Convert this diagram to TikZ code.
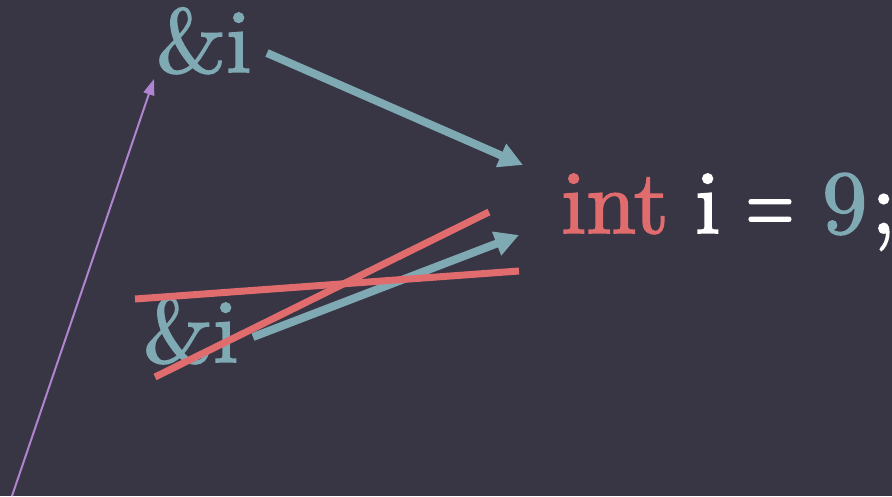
\documentclass[tikz,border=0pt]{standalone}
\usepackage{fontspec}
\newfontfamily\cmten{lmroman10-regular.otf}[FakeBold=1.8]
\usetikzlibrary{arrows.meta}
\definecolor{bg}{HTML}{383545}
\definecolor{teal}{HTML}{7FAAB3}
\definecolor{redc}{HTML}{E06C6E}
\definecolor{purp}{HTML}{B084D0}
\begin{document}
\begin{tikzpicture}[x=1pt,y=-1pt,
  big/.style={inner sep=0pt,anchor=base west,font=\cmten\fontsize{90}{90}\selectfont},
  tealarrow/.style={draw=teal,line width=8pt,-{Triangle[length=24pt,width=24pt]}},
  strike/.style={draw=redc,line width=7pt},
  thinarrow/.style={draw=purp,line width=2pt,-{Triangle[length=16pt,width=11pt]}}]
\fill[bg] (0,0) rectangle (892,496);
\useasboundingbox (0,0) rectangle (892,496);
\node[big,text=teal] (top) at (156,72) {\&i};
\node[big,text=teal] (low) at (143,362) {\&i};
\node[big,text=redc] (int) at (561,233) {int};
\node[big,text=white] (var) at (695,233) {i};
\node[big,text=white,anchor=base,xscale=0.7] (eq) at (770,233) {=};
\node[big,text=teal] (nine) at (822,233) {9};
\node[big,text=white] (semi) at (871,233) {;};
\coordinate (t1) at (267,53);
\coordinate (t2) at (523,165);
\coordinate (l1) at (253,337);
\coordinate (l2) at (519,235);
\coordinate (ra) at (135,299);
\coordinate (rb) at (519,271);
\coordinate (rc) at (155,377);
\coordinate (rd) at (489,212);
\coordinate (p1) at (12,496);
\coordinate (p2) at (154,79);
\draw[tealarrow] (t1) -- (t2);
\draw[tealarrow] (l1) -- (l2);
\draw[strike] (ra) -- (rb);
\draw[strike] (rc) -- (rd);
\draw[thinarrow] (p1) -- (p2);
\end{tikzpicture}
\end{document}
